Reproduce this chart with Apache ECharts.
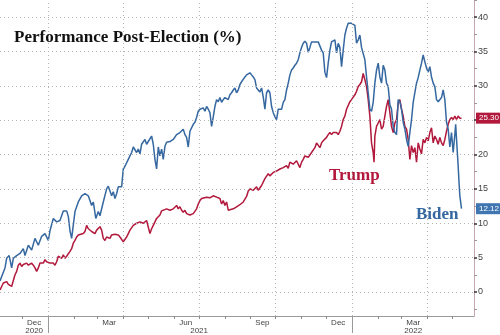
<!DOCTYPE html>
<html><head><meta charset="utf-8">
<script src="https://cdn.jsdelivr.net/npm/echarts@6/dist/echarts.min.js"></script>
<style>html,body{margin:0;padding:0;background:#fff}#c{width:500px;height:335px}</style>
</head><body><div id="c"></div>
<script>
// ---- data (days since the 2020 election, performance in %) ----
const electionDay = '2020-11-04';
const axisEnd = '2022-05-27';
const titleText = 'Performance Post-Election (%)';

const bidenDays = [0,6,8,11,14,16,20,24,28,30,34,38,42,46,50,54,58,60,64,68,72,76,80,82,84,86,90,94,98,102,106,110,112,115,118,120,124,128,130,132,134,136,138,140,142,146,148,150,154,156,158,160,162,164,166,168,170,174,176,178,182,184,186,188,190,192,194,196,198,200,204,208,210,212,214,216,218,220,222,224,226,228,230,232,234,236,238,240,244,246,248,250,252,254,256,258,260,262,264,266,268,270,272,274,276,278,280,282,284,286,288,290,292,294,296,300,302,304,306,308,310,312,314,316,318,320,322,324,326,328,330,332,334,336,338,340,342,344,346,348,350,352,354,356,358,360,362,364,366,368,370,372,374,376,378,380,382,384,386,388,390,392,394,396,398,400,402,404,406,408,410,412,414,416,418,420,422,424,426,428,430,432,434,436,438,440,442,444,446,448,450,452,454,456,458,460,462,464,466,468,470,472,474,476,478,480,482,484,486,488,490,492,494,496,498,500,502,504,506,508,510,512,514,516,518,520,522,524,526,528,530,532,534,536,538,540,542,544,546,547,549,550,551,552,554];
const bidenValues = [1.6,3.5,4.9,5.3,3.5,4.9,5.3,5.6,6.3,5.3,6.8,6.1,7.8,6.8,8.1,8.5,7.5,8.9,10.7,10.2,10.4,11.8,11.8,11.0,8.9,7.8,11.7,13.1,14.0,14.3,14.0,12.6,13.1,10.7,11.7,11.1,13.1,15.0,15.4,15.3,14.0,14.6,13.6,14.3,15.3,15.3,17.9,18.3,19.3,19.8,20.3,21.1,21.2,20.3,20.8,20.1,21.5,22.2,21.5,21.9,22.7,21.5,19.3,17.9,21.1,19.8,20.8,19.3,21.2,21.8,21.9,22.2,22.2,22.9,22.7,23.2,23.4,23.7,22.9,22.5,21.1,23.4,23.4,24.4,24.7,25.4,26.3,26.6,26.8,26.3,27.0,26.6,26.1,24.1,25.5,27.0,28.0,27.7,28.3,27.6,28.0,28.3,28.4,28.0,28.7,29.0,29.4,29.7,29.0,29.4,30.2,30.6,30.4,31.3,31.6,31.9,31.6,31.3,30.9,29.7,29.9,29.1,29.7,28.4,26.6,29.0,29.4,29.0,27.0,26.1,25.5,25.1,26.6,26.8,26.6,27.6,28.0,29.4,30.4,31.6,32.3,32.6,33.0,33.3,33.8,34.8,35.6,36.2,36.5,36.2,34.9,35.6,36.4,36.5,36.4,36.5,36.4,36.2,35.2,34.8,32.0,31.2,33.3,35.2,36.4,36.2,36.7,34.8,36.2,35.6,32.8,35.2,37.4,38.4,39.1,39.2,39.1,39.2,38.8,36.2,36.7,37.4,35.6,35.5,33.8,31.3,29.0,26.6,26.3,27.6,30.4,32.3,33.3,31.3,30.4,33.0,32.3,30.4,29.9,27.3,26.6,24.1,23.2,22.9,28.0,27.7,26.6,24.7,23.7,22.2,21.2,23.2,25.1,27.6,29.0,30.4,31.2,32.3,33.3,34.5,33.5,32.6,32.0,32.8,31.3,30.4,29.9,28.0,27.7,27.6,28.3,29.4,28.0,24.7,23.7,21.1,23.2,20.3,22.9,24.4,20.3,18.3,16.0,14.0,12.12];

const trumpDays = [0,2,4,6,8,10,12,14,16,18,20,22,24,26,28,30,32,34,36,38,40,42,44,46,48,50,52,54,56,58,60,62,64,66,68,70,72,74,76,78,80,82,84,86,88,90,92,94,96,100,102,104,106,108,110,112,114,116,118,120,122,124,126,128,130,132,134,136,138,140,142,144,146,148,150,152,154,156,160,164,168,172,176,180,182,184,188,192,194,196,200,204,208,212,214,216,218,220,222,224,226,228,230,232,234,236,238,240,242,244,248,252,256,260,262,264,266,268,270,272,274,276,280,284,288,292,296,298,300,304,308,310,314,318,322,324,328,332,336,340,344,346,348,352,356,360,362,364,366,370,374,378,380,382,384,386,388,390,392,394,396,398,400,404,406,408,410,412,414,416,418,420,422,424,426,428,430,432,434,436,438,440,442,444,446,448,449,450,452,454,456,458,460,462,464,466,468,470,472,474,476,478,480,482,484,486,488,490,492,494,496,498,500,502,504,506,508,510,512,514,516,518,520,522,524,526,528,530,532,534,536,538,540,542,544,546,548,550,552,554];
const trumpValues = [0.3,0.8,1.3,1.2,1.5,1.1,1.1,0.8,0.9,2.5,3.0,3.9,4.2,3.7,4.0,3.9,4.2,3.9,3.9,4.2,3.9,3.5,3.0,3.5,4.2,4.4,4.2,4.7,4.4,4.4,4.2,4.4,4.2,3.9,4.4,5.2,5.4,4.9,5.4,4.9,5.2,5.4,5.9,6.3,7.1,7.5,8.0,8.3,8.5,8.5,8.8,9.7,9.2,9.0,8.8,9.0,8.5,9.0,9.2,9.5,9.0,7.8,7.5,8.0,8.0,7.8,8.3,8.3,8.4,8.3,8.3,8.0,7.8,7.3,7.5,8.0,8.5,9.0,9.7,10.0,10.2,10.0,10.4,8.5,9.2,9.7,10.7,11.2,11.8,11.9,12.1,11.9,12.1,12.6,12.1,12.4,11.9,11.6,11.9,11.4,11.6,11.2,11.4,11.4,11.6,12.1,12.8,13.3,13.6,13.8,13.8,13.7,14.0,13.8,14.0,13.6,12.8,13.3,12.6,13.1,11.9,11.7,12.1,12.4,12.7,13.1,13.9,14.7,15.0,14.8,15.3,14.8,15.5,16.5,17.2,16.9,17.4,17.6,17.9,18.1,18.4,18.0,18.9,18.6,19.1,18.1,18.9,19.3,19.8,19.6,20.3,21.0,21.7,21.5,21.0,21.7,22.0,22.2,22.5,22.9,23.2,22.9,23.2,23.2,22.9,23.4,24.1,25.1,25.6,26.6,26.8,27.7,28.0,28.2,28.7,29.2,29.9,30.2,30.6,31.8,30.9,29.9,28.0,25.6,21.7,20.3,18.9,22.7,24.1,24.6,25.1,23.7,24.1,25.6,27.0,28.0,26.1,24.1,23.2,24.6,25.1,27.5,28.0,26.6,25.6,24.1,23.7,22.2,19.3,21.3,20.3,21.0,18.9,21.7,20.8,20.1,22.2,21.7,22.5,22.0,23.2,23.9,21.7,22.7,22.2,21.5,22.5,21.7,21.3,22.2,23.4,24.4,25.1,25.4,25.1,25.6,25.1,25.6,25.3,25.30];

const yTickLabels = [0,5,10,15,20,25,30,35,40];
const yMinorTicks = [-2.5,2.5,7.5,12.5,17.5,22.5,27.5,32.5,37.5,42.5];
const gridDates = ['2021-01-01','2021-04-01','2021-07-01','2021-10-01','2022-01-01','2022-04-01'];
const monthTickDates = ['2020-12-01','2021-01-01','2021-02-01','2021-03-01','2021-04-01','2021-05-01','2021-06-01','2021-07-01','2021-08-01','2021-09-01','2021-10-01','2021-11-01','2021-12-01','2022-01-01','2022-02-01','2022-03-01','2022-04-01','2022-05-01'];
const monthLabelDates = ['2020-12-15','2021-03-15','2021-06-15','2021-09-15','2021-12-15','2022-03-15'];
const yearLabelDates = ['2020-12-15','2021-07-01','2022-03-15'];
const yearBreakDates = ['2021-01-01','2022-01-01'];
const monthNames = ['Jan','Feb','Mar','Apr','May','Jun','Jul','Aug','Sep','Oct','Nov','Dec'];

// ---- build ----
const DAY = 86400000;
const t0 = Date.parse(electionDay);
const ts = s => Date.parse(s);
const biden = bidenDays.map((d, i) => [t0 + d * DAY, bidenValues[i]]);
const trump = trumpDays.map((d, i) => [t0 + d * DAY, trumpValues[i]]);
const lastB = bidenValues[bidenValues.length - 1];
const lastT = trumpValues[trumpValues.length - 1];

const RED = '#b2183b', BLUE = '#3568a0';
const dotted = { color: '#b5b5b5', width: 1, type: [1, 3] };
const clear = 'rgba(0,0,0,0)';

function tag(value, bg) {
  return {
    silent: true, symbol: 'none',
    lineStyle: { color: clear, width: 0 },
    label: { show: true, position: 'end', distance: 2, formatter: value.toFixed(2), color: '#fff',
      backgroundColor: bg, padding: [2, 4, 1, 3], fontSize: 8, fontFamily: 'Liberation Sans', opacity: 1 },
    emphasis: { disabled: true },
    data: [{ yAxis: value }]
  };
}

const chart = echarts.init(document.getElementById('c'), null, { renderer: 'canvas' });
chart.setOption({
  animation: false,
  backgroundColor: '#fff',
  grid: { left: 0, right: 26, top: 0, bottom: 17 },
  title: {
    text: titleText, left: 9, top: 24,
    textStyle: { fontFamily: 'Liberation Serif', fontWeight: 'bold', fontSize: 17, color: '#111' }
  },
  xAxis: [{
    type: 'value', min: t0, max: ts(axisEnd), scale: true,
    axisLine: { show: true, onZero: false, lineStyle: { color: '#9a9a9a', width: 1 } },
    axisTick: { show: true, length: 3, lineStyle: { color: '#8a8a8a' }, customValues: monthTickDates.map(ts) },
    axisLabel: { customValues: monthLabelDates.map(ts), margin: 3, fontSize: 8, color: '#444',
      fontFamily: 'Liberation Sans', formatter: v => monthNames[new Date(v).getUTCMonth()] },
    splitLine: { show: false }
  }, {
    type: 'value', min: t0, max: ts(axisEnd), scale: true, position: 'bottom',
    axisLine: { show: false, onZero: false },
    axisTick: { show: true, length: 17, lineStyle: { color: '#9a9a9a' }, customValues: yearBreakDates.map(ts) },
    axisLabel: { customValues: yearLabelDates.map(ts), margin: 11, fontSize: 8, color: '#444',
      fontFamily: 'Liberation Sans', formatter: v => String(new Date(v).getUTCFullYear()) },
    splitLine: { show: false }
  }],
  yAxis: [{
    type: 'value', position: 'right', min: -3.5, max: 42.5,
    axisLine: { show: true, onZero: false, lineStyle: { color: '#c7a7ae', width: 1 } },
    axisTick: { show: true, length: 3, inside: false, lineStyle: { color: '#333', width: 1.5 }, customValues: yTickLabels },
    axisLabel: { customValues: yTickLabels, margin: 4, fontSize: 9, color: '#444', fontFamily: 'Liberation Sans' },
    splitLine: { show: false }
  }, {
    type: 'value', position: 'right', min: -3.5, max: 42.5,
    axisLine: { show: false },
    axisTick: { show: true, length: 3, lineStyle: { color: '#999' }, customValues: yMinorTicks },
    axisLabel: { show: false }, splitLine: { show: false }
  }],
  series: [{
    name: 'grid', type: 'line', data: [[t0, 0]], showSymbol: false, silent: true,
    lineStyle: { opacity: 0 }, z: 1,
    markLine: {
      silent: true, symbol: 'none', label: { show: false }, lineStyle: dotted,
      data: yTickLabels.map(v => ({ yAxis: v })).concat(gridDates.map(d => ({ xAxis: ts(d) })))
    }
  }, {
    name: 'Trump', type: 'line', data: trump, showSymbol: false, z: 3, clip: false,
    lineStyle: { color: RED, width: 1.5 }, itemStyle: { color: RED },
    markLine: tag(lastT, RED)
  }, {
    name: 'Biden', type: 'line', data: biden, showSymbol: false, z: 4, clip: false,
    lineStyle: { color: BLUE, width: 1.5 }, itemStyle: { color: BLUE },
    markLine: tag(lastB, '#3f75b0')
  }],
  graphic: [
    { type: 'text', left: 329, top: 167, style: { text: 'Trump', fill: RED, font: 'bold 17px "Liberation Serif"' } },
    { type: 'text', left: 416, top: 206, style: { text: 'Biden', fill: BLUE, font: 'bold 17px "Liberation Serif"' } }
  ]
});
</script></body></html>
